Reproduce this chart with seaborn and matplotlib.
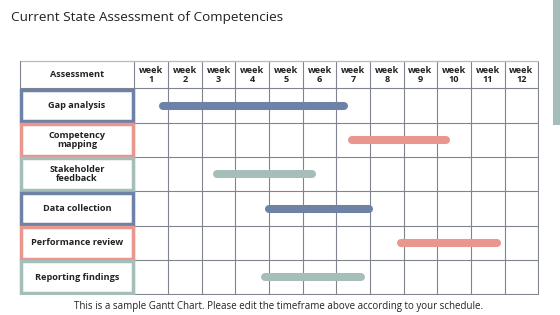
import pandas as pd
import numpy as np
import matplotlib
matplotlib.use('Agg')
import matplotlib.pyplot as plt
import seaborn as sns
from matplotlib.patches import Rectangle

# Gantt data (week units, 0 = start of week 1)
tasks = ['Gap analysis', 'Competency\nmapping', 'Stakeholder\nfeedback',
         'Data collection', 'Performance review', 'Reporting findings']
starts = [0.86, 6.46, 2.46, 4.00, 7.91, 3.88]
ends = [6.22, 9.27, 5.27, 6.96, 10.78, 6.72]
weeks = [f'week\n{i}' for i in range(1, 13)]
header = 'Assessment'

blue = '#6E82A8'
pink = '#E8968E'
teal = '#A5BEBA'
task_colors = [blue, pink, teal, blue, pink, teal]
grid_col = '#80848E'

sns.set_theme(style='white')
plt.rcParams['font.family'] = ['Open Sans', 'DejaVu Sans']

fig = plt.figure(figsize=(5.6, 3.15), dpi=100)
ax = fig.add_axes([19 / 560, 20 / 315, 520 / 560, 235 / 315])

label_left = -3.41
head_top = -0.81
n = len(tasks)

# long table for seaborn lines
df = pd.DataFrame({
    'task': np.repeat(range(n), 2),
    'x': np.ravel(np.column_stack([starts, ends])),
})
df['row'] = df['task'] + 0.5
sns.lineplot(data=df, x='x', y='row', hue='task', units='task', estimator=None,
             palette=task_colors, linewidth=5.8, solid_capstyle='round',
             legend=False, ax=ax, zorder=5)

# grid
for i in range(13):
    ax.plot([i, i], [head_top, n], color=grid_col, lw=0.8, zorder=2)
for j in range(n + 1):
    ax.plot([0, 12], [j, j], color=grid_col, lw=0.8, zorder=2)
ax.plot([label_left, 12], [head_top, head_top], color='#B8BCC2', lw=0.9, zorder=2)
ax.plot([label_left, label_left], [head_top, 0], color=grid_col, lw=0.8, zorder=2)
ax.plot([label_left, 0], [0, 0], color=grid_col, lw=0.8, zorder=2)

# header text
ax.text(label_left / 2, head_top / 2, header, ha='center', va='center',
        fontsize=6.6, fontweight='bold', color='#222222')
for i, w in enumerate(weeks):
    ax.text(i + 0.5, head_top / 2, w, ha='center', va='center', fontsize=6.6,
            fontweight='bold', color='#222222', linespacing=1.0)

# label cells
for j, (t, c) in enumerate(zip(tasks, task_colors)):
    ax.add_patch(Rectangle((label_left + 0.04, j + 0.04), -label_left - 0.08, 0.92,
                           facecolor='white', edgecolor=c, lw=2.5, zorder=3))
    ax.text(label_left / 2, j + 0.5, t, ha='center', va='center', fontsize=6.6,
            fontweight='bold', color='#222222', linespacing=1.05, zorder=4)

ax.set_xlim(label_left - 0.02, 12.02)
ax.set_ylim(n + 0.02, head_top - 0.02)
ax.set_axis_off()

fig.text(11 / 560, 1 - 18 / 315, 'Current State Assessment of Competencies',
         ha='left', va='center', fontsize=9.7, color='#222222')
fig.text(279 / 560, 1 - 306 / 315,
         'This is a sample Gantt Chart. Please edit the timeframe above according to your schedule.',
         ha='center', va='center', fontsize=7.0, color='#222222')
fig.patches.append(Rectangle((553 / 560, 1 - 125 / 315), 7 / 560, 125 / 315,
                             transform=fig.transFigure, facecolor=teal, edgecolor='none'))

fig.savefig('out.png', dpi=100, facecolor='white')
